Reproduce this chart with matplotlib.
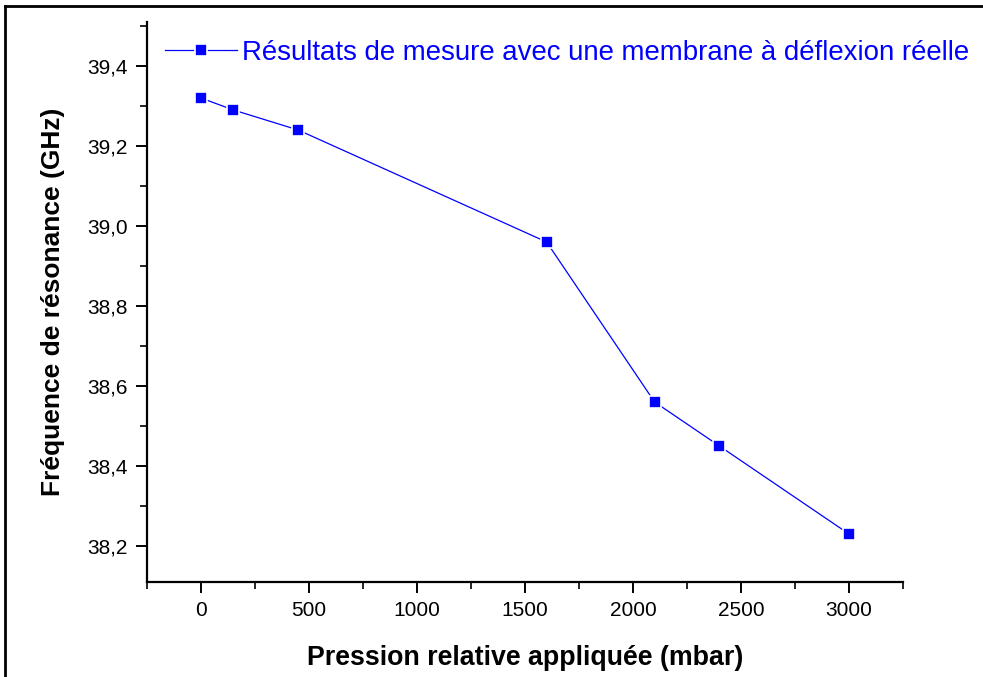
import matplotlib
matplotlib.use("Agg")
import matplotlib.pyplot as plt
from matplotlib.ticker import MultipleLocator, FuncFormatter
from matplotlib.lines import Line2D

pression = [0, 150, 450, 1600, 2100, 2400, 3000]
frequence = [39.32, 39.29, 39.24, 38.96, 38.56, 38.45, 38.23]
serie_label = "Résultats de mesure avec une membrane à déflexion réelle"
xlabel = "Pression relative appliquée (mbar)"
ylabel = "Fréquence de résonance (GHz)"

plt.rcParams['font.family'] = ['Liberation Sans', 'DejaVu Sans']

fig = plt.figure(figsize=(9.83, 6.77), dpi=100)
ax = fig.add_axes([147/983, 1-582/677, (903-147)/983, (582-22)/677])

ax.plot(pression, frequence, color='#0000ff', lw=0.9, marker='s', ms=8,
        markerfacecolor='#0000ff', markeredgecolor='white', markeredgewidth=1.2,
        label=serie_label)

ax.set_xlim(-250, 3250)
ax.set_ylim(38.11, 39.51)
ax.xaxis.set_major_locator(MultipleLocator(500))
ax.xaxis.set_minor_locator(MultipleLocator(250))
ax.yaxis.set_major_locator(MultipleLocator(0.2))
ax.yaxis.set_minor_locator(MultipleLocator(0.1))
ax.yaxis.set_major_formatter(FuncFormatter(lambda v, p: f"{v:.1f}".replace('.', ',')))

for s in ['top', 'right']:
    ax.spines[s].set_visible(False)
for s in ['left', 'bottom']:
    ax.spines[s].set_linewidth(1.6)

ax.tick_params(which='major', direction='out', length=8, width=1.4, labelsize=15, pad=6)
ax.tick_params(which='minor', direction='out', length=5, width=1.2)

ax.set_xlabel(xlabel, fontsize=19.3, fontweight='bold', labelpad=18)
ax.set_ylabel(ylabel, fontsize=19, fontweight='bold', labelpad=16)

leg = ax.legend(loc='upper left', bbox_to_anchor=(0.0, 1.0), frameon=False,
                fontsize=19.9, handlelength=2.6, handletextpad=0.2, borderaxespad=0.25)
for t in leg.get_texts():
    t.set_color('#0000ff')

fig.add_artist(Line2D([5/983, 5/983], [0, 1-6/677], color='black', lw=2, transform=fig.transFigure))
fig.add_artist(Line2D([5/983, 1], [1-6/677, 1-6/677], color='black', lw=2, transform=fig.transFigure))

fig.savefig("out.png", dpi=100)
